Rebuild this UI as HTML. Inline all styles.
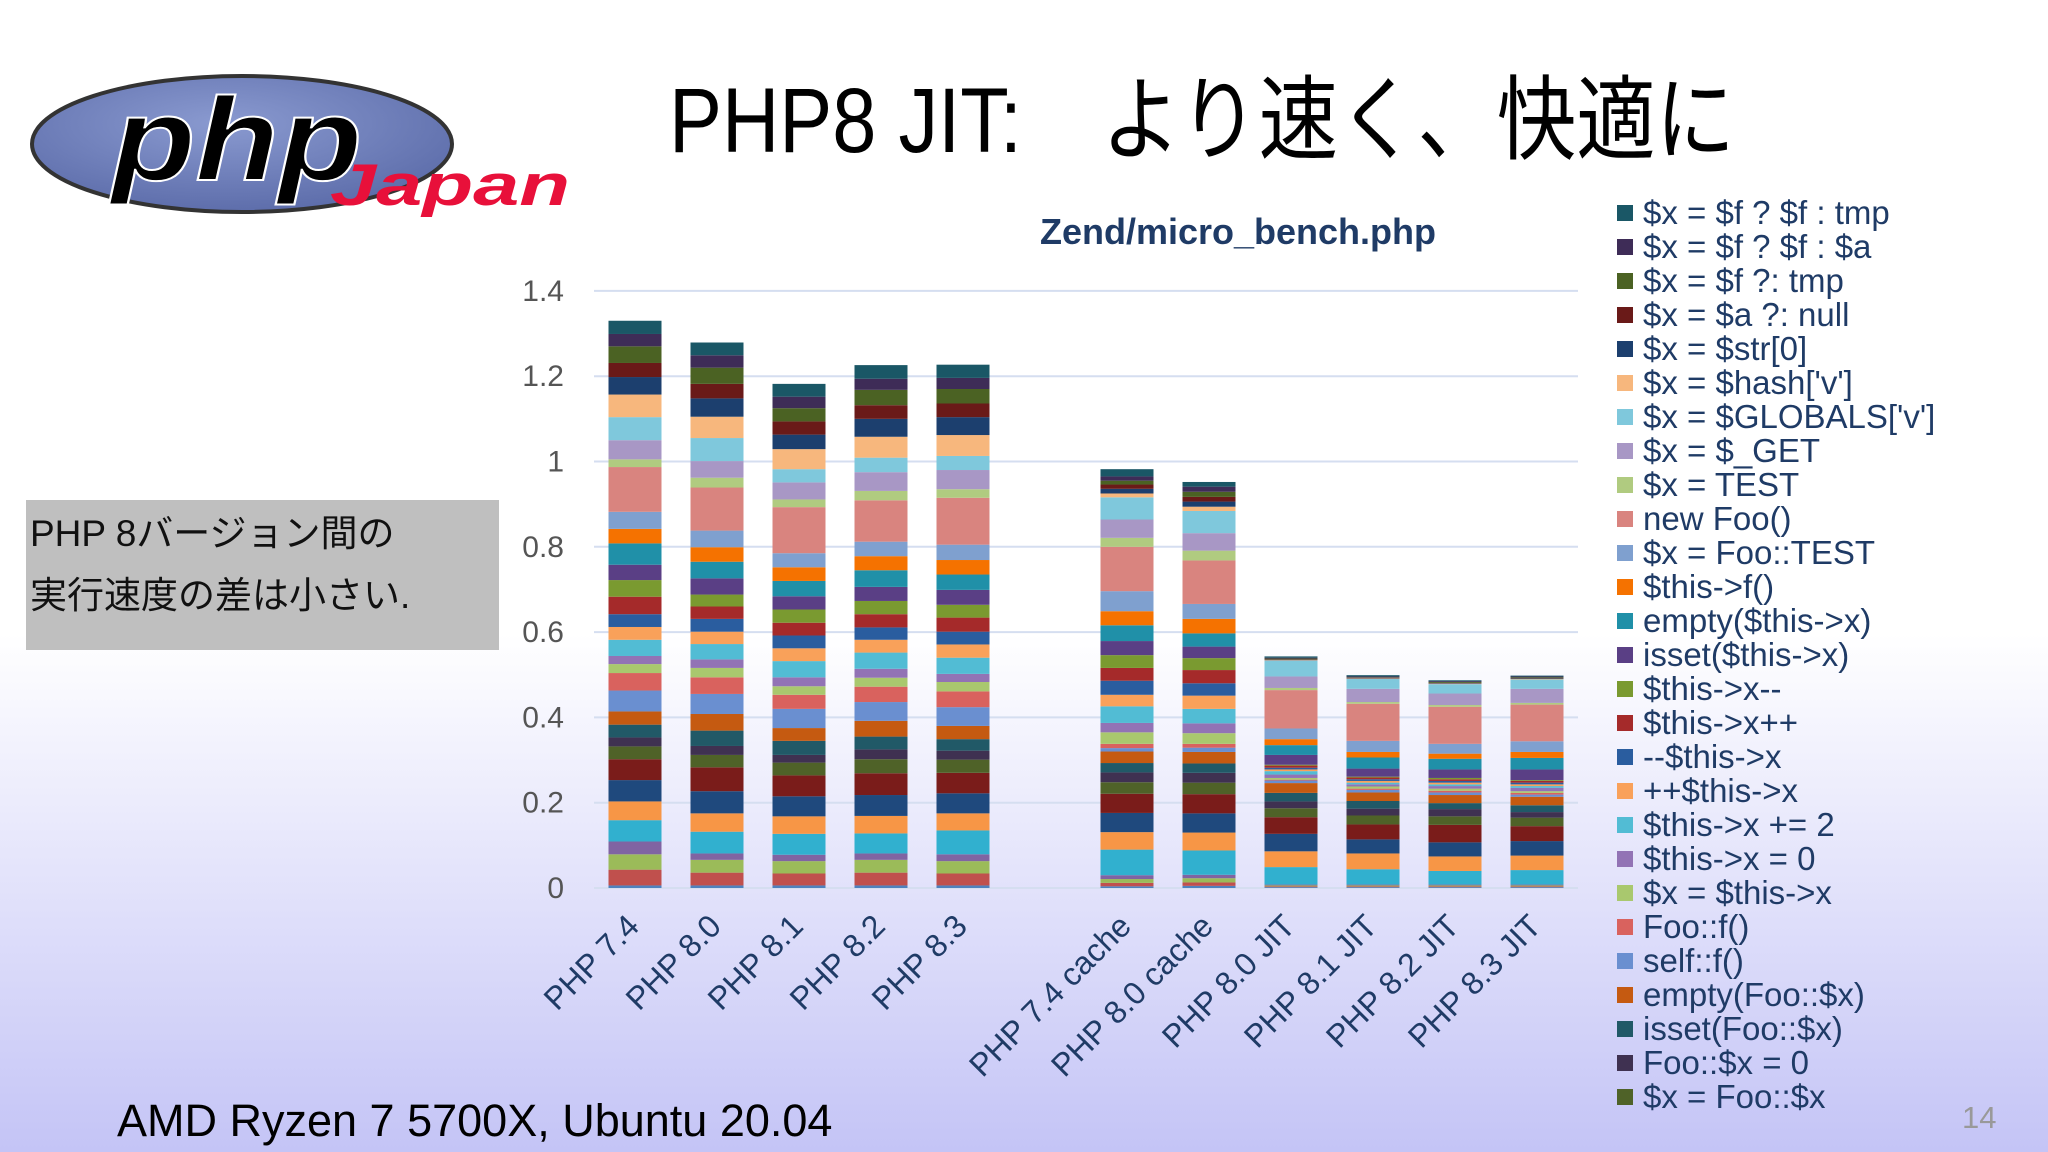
<!DOCTYPE html>
<html><head><meta charset="utf-8"><style>
html,body{margin:0;padding:0;width:2048px;height:1152px;overflow:hidden}
svg{display:block}
</style></head><body>
<svg id="root" width="2048" height="1152" viewBox="0 0 2048 1152" xmlns="http://www.w3.org/2000/svg">
<defs>
<linearGradient id="bg" x1="0" y1="0" x2="0" y2="1">
<stop offset="0" stop-color="#ffffff"/><stop offset="0.55" stop-color="#ffffff"/><stop offset="1" stop-color="#c4c4f6"/>
</linearGradient>
<radialGradient id="lg" cx="0.45" cy="0.35" r="0.7">
<stop offset="0" stop-color="#8a9ad0"/><stop offset="1" stop-color="#5a6aa8"/>
</radialGradient>
</defs>
<rect x="0" y="0" width="2048" height="1152" fill="url(#bg)"/>
<g>
<ellipse cx="242" cy="144" rx="210" ry="68" fill="url(#lg)" stroke="#333" stroke-width="4"/>
<text x="112" y="180" font-family="Liberation Sans, sans-serif" font-size="118" font-weight="bold" font-style="italic" fill="#000" stroke="#fff" stroke-width="2" textLength="250" lengthAdjust="spacingAndGlyphs">php</text>
<text x="330" y="205" font-family="Liberation Sans, sans-serif" font-size="58" font-weight="bold" font-style="italic" fill="#e8103a" textLength="240" lengthAdjust="spacingAndGlyphs">Japan</text>
</g>
<text x="669" y="152" font-family="Liberation Sans, 'Noto Sans CJK JP', sans-serif" font-size="92" textLength="1066" lengthAdjust="spacingAndGlyphs" fill="#000">PHP8 JIT:　より速く、快適に</text>
<text x="1238" y="244" text-anchor="middle" font-family="Liberation Sans, sans-serif" font-size="36" font-weight="bold" fill="#1f3b66">Zend/micro_bench.php</text>
<rect x="26" y="500" width="473" height="150" fill="#bfbfbf"/>
<text x="30" y="546" font-family="Liberation Sans, 'Noto Sans CJK JP', sans-serif" font-size="37" fill="#111">PHP 8バージョン間の</text>
<text x="30" y="608" font-family="Liberation Sans, 'Noto Sans CJK JP', sans-serif" font-size="37" fill="#111">実行速度の差は小さい.</text>
<text x="117" y="1136" font-family="Liberation Sans, sans-serif" font-size="45" fill="#000">AMD Ryzen 7 5700X, Ubuntu 20.04</text>
<text x="1962" y="1128" font-family="Liberation Sans, sans-serif" font-size="31" fill="#999">14</text>
<g id="chart"></g>
<g id="legend"></g>
</svg>
<script>
const categories = ["PHP 7.4","PHP 8.0","PHP 8.1","PHP 8.2","PHP 8.3","","PHP 7.4 cache","PHP 8.0 cache","PHP 8.0 JIT","PHP 8.1 JIT","PHP 8.2 JIT","PHP 8.3 JIT"];
const seriesNames = ["s1","s2","s3","s4","s5","s6","s7","s8","$x = Foo::$x","Foo::$x = 0","isset(Foo::$x)","empty(Foo::$x)","self::f()","Foo::f()","$x = $this->x","$this->x = 0","$this->x += 2","++$this->x","--$this->x","$this->x++","$this->x--","isset($this->x)","empty($this->x)","$this->f()","$x = Foo::TEST","new Foo()","$x = TEST","$x = $_GET","$x = $GLOBALS['v']","$x = $hash['v']","$x = $str[0]","$x = $a ?: null","$x = $f ?: tmp","$x = $f ? $f : $a","$x = $f ? $f : tmp"];
const colors = ["#4f81bd","#c0504d","#9bbb59","#8064a2","#31b0cf","#f79646","#1f497d","#7a1c1a","#4f6228","#3f3151","#215967","#c55a11","#6a8fd0","#d9625e","#a9c86e","#9273b5","#52bcd4","#f9a15a","#2a5d9f","#a52a2a","#7a9a30","#5a3f85","#2090a8","#f57200","#7fa0cf","#d9847f","#b0cb80","#a897c5","#7fc8dc","#f7b77d","#1c3f6e","#6a1a18","#4b6223","#3e2c57","#1a5766"];
// values in thousandths
const v74  = [6,37,36,30,50,44,50,49,30,21,30,31,49,41,21,19,38,30,30,41,39,36,50,34,40,105,18,45,54,53,41,33,39,29,31];
const v80  = [6,30,30,15,51,43,52,56,29,21,36,39,47,39,22,20,36,29,30,29,28,38,39,34,39,101,23,39,54,50,43,34,38,29,30];
const v81  = [6,28,29,15,49,41,47,49,30,18,33,30,45,33,20,21,38,30,30,30,31,31,36,32,33,108,18,40,31,47,34,31,31,27,30];
const v82  = [6,30,30,15,47,41,49,51,33,23,30,37,44,36,21,21,38,30,29,31,31,33,39,33,34,97,22,44,34,49,42,32,36,26,32];
const v83  = [6,28,29,16,56,40,47,48,31,21,27,31,44,37,22,19,38,31,30,33,30,35,36,34,36,110,20,45,33,49,42,32,34,26,31];
const v74c = [4,8,9,9,60,41,45,45,27,23,22,27,8,10,27,22,39,27,33,30,30,33,37,33,47,104,21,43,52,9,11,10,9,10,17];
const v80c = [5,8,10,8,57,42,45,45,27,23,22,27,10,9,25,23,34,31,29,31,28,27,31,34,35,102,23,41,52,10,12,11,12,12,11];
const v80j = [2,2,2,2,41,37,41,39,21,16,20,23,6,2,4,8,8,4,4,5,2,23,23,14,25,90,5,27,37,1,1,1,2,2,3];
const v81j = [2,2,2,2,36,37,33,35,21,16,18,20,6,3,5,5,4,4,4,4,2,19,26,13,26,87,4,31,23,1,1,1,1,2,3];
const v82j = [2,2,2,2,32,34,33,41,20,17,14,19,6,4,5,6,4,4,4,4,3,20,25,12,23,87,4,27,22,1,1,1,2,2,2];
const v83j = [2,2,2,2,34,34,34,35,20,13,16,20,5,4,4,8,4,4,4,4,2,25,27,14,25,86,4,33,22,1,1,1,2,2,2];
const barValues = [v74,v80,v81,v82,v83,null,v74c,v80c,v80j,v81j,v82j,v83j];
const yTicks = [0,0.2,0.4,0.6,0.8,1,1.2,1.4];
const yTickLabels = ["0","0.2","0.4","0.6","0.8","1","1.2","1.4"];

const NS="http://www.w3.org/2000/svg";
const plotL=594, plotR=1578, y0=888, pxPerUnit=426.5;
const slot=(plotR-plotL)/categories.length, barW=53;
const yScale=v=>y0-v*pxPerUnit;
const xCenter=i=>plotL+slot*(i+0.5);
const chart=document.getElementById('chart');
function mk(tag,attrs){const e=document.createElementNS(NS,tag);for(const k in attrs)e.setAttribute(k,attrs[k]);return e;}
yTicks.forEach((t,i)=>{
  const g=mk('line',{x1:plotL,x2:plotR,y1:yScale(t),y2:yScale(t),stroke:'#d5def0','stroke-width':2});
  
  
  chart.appendChild(g);
  const l=mk('text',{x:564,y:yScale(t)+10,'text-anchor':'end','font-family':'Liberation Sans, sans-serif','font-size':30,fill:'#555'});
  l.textContent=yTickLabels[i];
  
  
  chart.appendChild(l);
});
barValues.forEach((vals,ci)=>{
  const cx=xCenter(ci);
  if(vals){
    let acc=0;
    vals.forEach((v,si)=>{
      const val=v/1000;
      const r=mk('rect',{x:cx-barW/2,y:yScale(acc+val),width:barW,height:Math.max(0,yScale(acc)-yScale(acc+val)),fill:colors[si]});
      
      
      chart.appendChild(r);
      acc+=val;
    });
  }
  if(categories[ci]){
    const tx=cx+6, ty=y0+40;
    const t=mk('text',{x:tx,y:ty,'text-anchor':'end','font-family':'Liberation Sans, sans-serif','font-size':32,fill:'#1f3b66',transform:`rotate(-45 ${tx} ${ty})`});
    t.textContent=categories[ci];
    
    
    chart.appendChild(t);
  }
});
const legend=document.getElementById('legend');
const legendCount=27;
for(let k=0;k<legendCount;k++){
  const si=seriesNames.length-1-k;
  const cy=213+k*34;
  const s=mk('rect',{x:1617,y:cy-8,width:16,height:16,fill:colors[si]});
  
  
  legend.appendChild(s);
  const t=mk('text',{x:1643,y:cy+11,'font-family':'Liberation Sans, sans-serif','font-size':33,fill:'#1f3b66'});
  t.textContent=seriesNames[si];
  
  
  legend.appendChild(t);
}
</script>
</body></html>
